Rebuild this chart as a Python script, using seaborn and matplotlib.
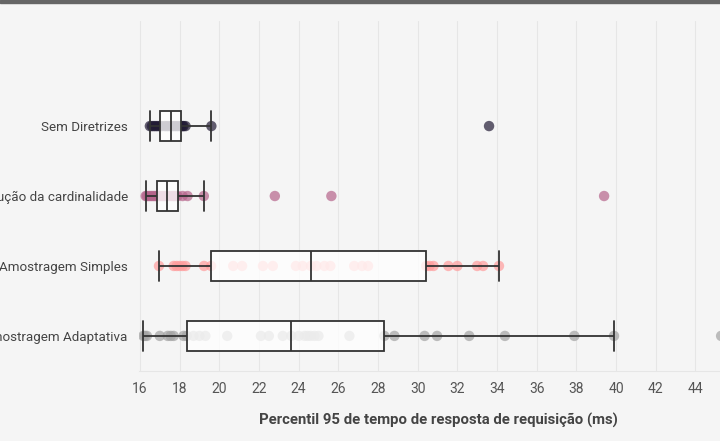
import matplotlib
matplotlib.use("Agg")
import matplotlib.pyplot as plt
import seaborn as sns
import pandas as pd
import numpy as np

categories = ["", "Sem Diretrizes", "Redução da cardinalidade", "Amostragem Simples", "Amostragem Adaptativa"]

sem_diretrizes = [16.5, 16.6, 16.7, 16.8, 16.9, 17.01, 17.1, 17.25, 17.35, 17.45, 17.57,
                  17.65, 17.75, 17.85, 17.95, 18.07, 18.15, 18.2, 18.3, 19.6, 33.6]
reducao_cardinalidade = [16.29, 16.35, 16.45, 16.55, 16.65, 16.75, 16.84, 16.95, 17.02, 17.1,
                         17.18, 17.26, 17.35, 17.45, 17.55, 17.65, 17.72, 17.8, 17.9, 18.15,
                         18.4, 19.22, 22.8, 25.65, 39.4]
amostragem_simples = [16.96, 17.7, 17.85, 18.0, 18.15, 18.3, 19.23, 19.59, 20.7, 21.15, 22.2,
                      22.7, 23.86, 24.2, 24.62, 24.9, 25.3, 25.6, 26.8, 27.2, 27.5, 30.43,
                      30.6, 30.8, 31.55, 32.0, 33.0, 33.3, 34.1]
amostragem_adaptativa = [16.17, 16.25, 16.35, 17.0, 17.4, 17.55, 17.7, 18.2, 18.36, 18.7, 19.0,
                         19.3, 20.4, 22.1, 22.5, 23.2, 23.63, 24.0, 24.3, 24.45, 24.6, 24.8,
                         25.0, 26.56, 28.32, 28.83, 30.35, 30.98, 32.6, 34.4, 37.9, 39.9, 45.3]

colors = {"Sem Diretrizes": "#221b35", "Redução da cardinalidade": "#b5648b",
          "Amostragem Simples": "#ff9c9c", "Amostragem Adaptativa": "#a3a3a3"}

rows = []
for name, vals in [(categories[1], sem_diretrizes), (categories[2], reducao_cardinalidade),
                   (categories[3], amostragem_simples), (categories[4], amostragem_adaptativa)]:
    for v in vals:
        rows.append({"cat": name, "val": v})
df = pd.DataFrame(rows)

sns.set_theme(style="whitegrid")
plt.rcParams["font.family"] = ["Roboto", "DejaVu Sans"]

fig = plt.figure(figsize=(7.2, 4.41), dpi=100, facecolor="#f5f5f5")
ax = fig.add_axes([0.193, 0.159, 0.8306, 0.793])
ax.set_facecolor("#f5f5f5")

sns.stripplot(data=df, x="val", y="cat", hue="cat", palette=colors, order=categories,
              hue_order=categories[1:], jitter=False, size=7.5, alpha=0.7, linewidth=0,
              legend=False, ax=ax, zorder=2)
sns.boxplot(data=df, x="val", y="cat", order=categories, width=0.43, showfliers=False,
            linecolor="#333333", linewidth=1.3, ax=ax,
            boxprops=dict(facecolor=(1, 1, 1, 0.78), edgecolor="#333333", zorder=3),
            whiskerprops=dict(color="#333333", zorder=3),
            capprops=dict(color="#333333", zorder=3),
            medianprops=dict(color="#333333", zorder=4),
            capwidths=0.43)

ax.set_xlim(15.95, 46.1)
ax.set_ylim(4.5, -0.5)
ax.set_xticks(np.arange(16, 47, 2))
ax.set_xticklabels([str(t) if t <= 44 else "" for t in range(16, 47, 2)])
ax.grid(axis="x", color="#e6e6e6", linewidth=0.8)
ax.grid(axis="y", visible=False)
for s in ["top", "right", "left"]:
    ax.spines[s].set_visible(False)
ax.spines["bottom"].set_color("#e6e6e6")
ax.spines["bottom"].set_linewidth(0.8)
ax.tick_params(axis="x", colors="#555555", labelsize=10, length=0, pad=8)
ax.tick_params(axis="y", colors="#444444", labelsize=9.6, length=0, pad=8)
ax.set_ylabel("")
ax.set_xlabel("Percentil 95 de tempo de resposta de requisição (ms)", fontsize=10.7,
              fontweight="bold", color="#444444", labelpad=12)

fig.add_artist(plt.Rectangle((0, 1 - 3 / 441), 1, 3 / 441, transform=fig.transFigure,
                             color="#666666", zorder=10))

fig.savefig("out.png", dpi=100, facecolor=fig.get_facecolor())
